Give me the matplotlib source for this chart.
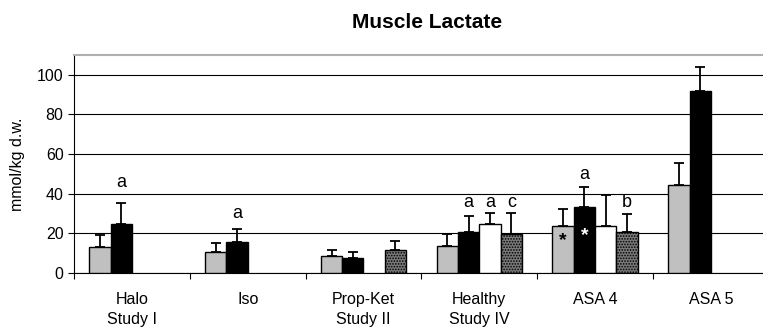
import numpy as np
import matplotlib.pyplot as plt

plt.rcParams['font.family'] = ['Liberation Sans', 'DejaVu Sans']

categories = ["Halo\nStudy I", "Iso", "Prop-Ket\nStudy II", "Healthy\nStudy IV", "ASA 4", "ASA 5"]

# four series per group, nan = no bar
gray_vals = [13.2, 10.7, 8.5, 13.7, 23.8, 44.4]
gray_err = [6.2, 4.2, 3.1, 5.9, 8.4, 11.2]
black_vals = [24.8, 15.7, 7.5, 20.9, 33.3, 91.6]
black_err = [10.4, 6.4, 3.2, 7.9, 10.3, 12.3]
white_vals = [np.nan, np.nan, np.nan, 24.6, 23.5, np.nan]
white_err = [np.nan, np.nan, np.nan, 5.9, 16.0, np.nan]
dot_vals = [np.nan, np.nan, 11.6, 19.9, 20.6, np.nan]
dot_err = [np.nan, np.nan, 4.5, 10.4, 9.2, np.nan]

# letters above bars: (category, series slot, text, y)
letters = [(0, 1, "a", 45.9), (1, 1, "a", 30.2), (3, 1, "a", 35.8), (3, 2, "a", 35.8),
           (3, 3, "c", 35.8), (4, 1, "a", 49.7), (4, 3, "b", 35.8)]
# stars inside bars: (category, slot, colour, y)
stars = [(4, 0, "black", 16.6), (4, 1, "white", 18.7)]

fig = plt.figure(figsize=(7.63, 3.31), dpi=100)
ax = fig.add_axes([74 / 763, 1 - 273 / 331, 1 - 74 / 763, 218 / 331])

x = np.arange(len(categories))
w = 0.184
offsets = np.array([-1.5, -0.5, 0.5, 1.5]) * w

series = [(gray_vals, gray_err, "#c0c0c0", None),
          (black_vals, black_err, "black", None),
          (white_vals, white_err, "white", None),
          (dot_vals, dot_err, "#7a7a7a", "......")]

plt.rcParams['hatch.linewidth'] = 0.8
for i, (vals, errs, col, hatch) in enumerate(series):
    vals = np.array(vals, dtype=float)
    errs = np.array(errs, dtype=float)
    ok = ~np.isnan(vals)
    ax.bar(x[ok] + offsets[i], vals[ok], w, color=col, edgecolor="black",
           linewidth=1.0, hatch=hatch, zorder=3)
    ax.errorbar(x[ok] + offsets[i], vals[ok], yerr=[np.zeros(ok.sum()), errs[ok]],
                fmt="none", ecolor="black", elinewidth=1.3, capsize=3.6,
                capthick=1.3, zorder=2)

for c, s, txt, y in letters:
    ax.text(x[c] + offsets[s], y, txt, ha="center", va="center", fontsize=13)
for c, s, col, y in stars:
    ax.text(x[c] + offsets[s], y, "*", ha="center", va="center", fontsize=14,
            fontweight="bold", color=col, zorder=5)

ax.set_ylim(0, 110)
ax.set_xlim(-0.5, 5.45)
ax.set_yticks(np.arange(0, 101, 20))
ax.yaxis.grid(True, color="black", linewidth=0.8, zorder=0)
ax.set_axisbelow(True)
ax.tick_params(axis="y", direction="out", length=4, labelsize=11.5, width=0.8)

ax.set_xticks(np.arange(0, 6) - 0.5)
ax.set_xticklabels([])
ax.tick_params(axis="x", which="major", direction="out", length=4, width=0.8)
ax.set_xticks(x, minor=True)
ax.set_xticklabels(categories, minor=True, fontsize=11.5, linespacing=1.35)
ax.tick_params(axis="x", which="minor", length=0, pad=14)

ax.spines["right"].set_visible(False)
ax.spines["top"].set_color("#b0b0b0")
ax.spines["top"].set_linewidth(1.5)
ax.spines["left"].set_linewidth(0.8)
ax.spines["bottom"].set_linewidth(0.8)

ax.set_ylabel("mmol/kg d.w.", fontsize=11.5)
ax.yaxis.set_label_coords(-0.071, 0.5)

fig.text(427 / 763, 1 - 23 / 331, "Muscle Lactate", ha="center", va="center",
         fontsize=15, fontweight="bold")

fig.savefig("out.png", dpi=100)
